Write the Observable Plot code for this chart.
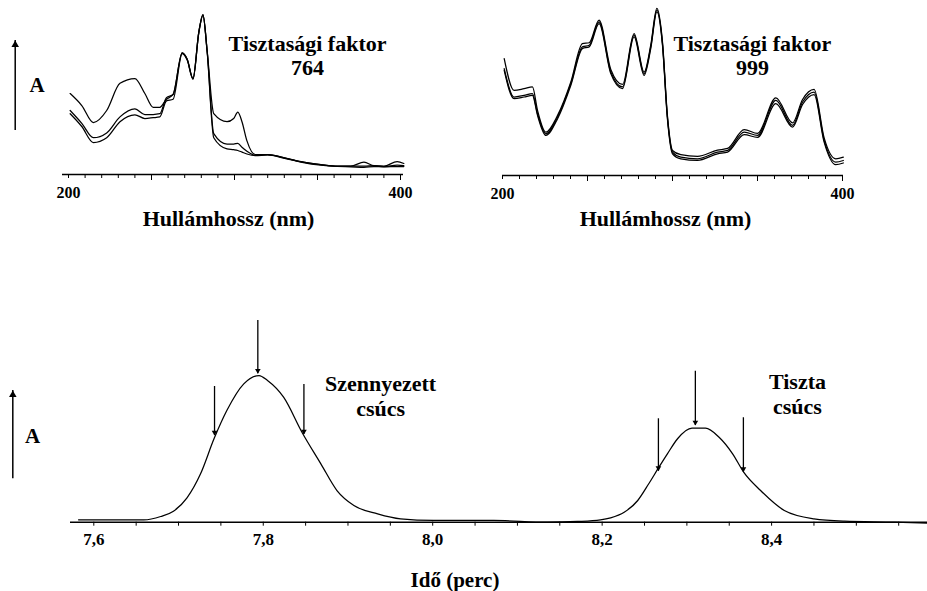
<!DOCTYPE html>
<html>
<head>
<meta charset="utf-8">
<script src="https://cdn.jsdelivr.net/npm/d3@7"></script>
<script src="https://cdn.jsdelivr.net/npm/@observablehq/plot@0.6"></script>
<style>
html, body { margin: 0; padding: 0; background: #fff; }
#fig { position: relative; width: 927px; height: 591px; overflow: hidden; }
.panel { position: absolute; }
</style>
</head>
<body>
<div id="fig"></div>
<script>
// ---------- Data ----------
// Top-left spectra (impure peak, purity factor 764)
const wlImpure = [201,208,215,223,231,240,246,251,255,259,263,268.5,271.5,275,278.5,281,283.5,287.5,295.5,299.5,302,304.5,307.5,312.5,320,329.5,340,352,362,370,378,384,390,398,402];
const impureA = [0.506,0.431,0.325,0.40,0.57,0.60,0.506,0.42,0.42,0.47,0.50,0.76,0.72,0.60,0.89,1.0,0.775,0.38,0.33,0.35,0.39,0.33,0.21,0.125,0.125,0.105,0.08,0.062,0.052,0.052,0.077,0.055,0.052,0.081,0.069];
const impureB = [0.40,0.32,0.23,0.26,0.36,0.41,0.375,0.375,0.38,0.48,0.50,0.76,0.72,0.60,0.89,1.0,0.775,0.255,0.19,0.19,0.195,0.17,0.145,0.12,0.125,0.105,0.08,0.062,0.052,0.052,0.052,0.055,0.05,0.058,0.055];
const impureC = [0.38,0.30,0.20,0.23,0.33,0.373,0.35,0.355,0.36,0.46,0.47,0.755,0.715,0.595,0.885,0.995,0.77,0.23,0.16,0.155,0.15,0.14,0.128,0.118,0.122,0.103,0.078,0.058,0.05,0.048,0.045,0.05,0.047,0.05,0.05];

// Top-right spectra (pure peak, purity factor 999)
const wlPure = [201,206.8,212.7,217.6,220.6,225.5,232.4,240.2,247,251,256.8,263.7,270.6,277.4,283.3,287.2,290.8,294.1,297,300,304.9,314.7,326.5,332.4,342.2,350,360.8,370.6,376.5,383.3,389.2,396,400.5];
const pureHigh = [0.70,0.51,0.52,0.53,0.39,0.26,0.36,0.56,0.79,0.795,0.93,0.635,0.545,0.85,0.62,0.78,1.0,0.80,0.36,0.15,0.125,0.115,0.152,0.162,0.275,0.252,0.465,0.315,0.455,0.515,0.225,0.10,0.11];
const pureMid  = [0.64,0.47,0.48,0.49,0.37,0.25,0.35,0.55,0.77,0.78,0.92,0.62,0.53,0.84,0.61,0.77,0.99,0.79,0.35,0.14,0.11,0.10,0.14,0.15,0.26,0.24,0.45,0.30,0.44,0.50,0.21,0.08,0.09];
const pureLow  = [0.63,0.46,0.47,0.48,0.36,0.24,0.34,0.54,0.76,0.77,0.91,0.61,0.52,0.83,0.60,0.76,0.98,0.78,0.34,0.13,0.10,0.09,0.13,0.14,0.245,0.228,0.43,0.29,0.425,0.485,0.20,0.065,0.075];

// Chromatogram
const timeMin = [7.582,7.659,7.679,7.694,7.710,7.726,7.742,7.757,7.777,7.795,7.805,7.824,7.846,7.868,7.887,7.907,7.935,7.962,8.001,8.045,8.072,8.135,8.171,8.198,8.210,8.226,8.242,8.255,8.267,8.277,8.289,8.306,8.322,8.338,8.354,8.367,8.387,8.415,8.450,8.486,8.545,8.584];
const signal  = [0.016,0.016,0.039,0.075,0.166,0.330,0.57,0.761,0.943,1.0,0.966,0.852,0.61,0.398,0.216,0.114,0.057,0.023,0.012,0.012,0.012,0.0,0.005,0.016,0.030,0.068,0.148,0.262,0.375,0.466,0.569,0.641,0.641,0.579,0.466,0.341,0.216,0.080,0.023,0.007,0.0,-0.007];

// Axis ticks and labels
const spectrumMinorTicks = d3.range(200, 401, 10);
const spectrumMajorTicks = [250, 300, 350, 400];
const spectrumTickLabels = [200, 400];
const timeMinorTicks = d3.range(152, 172).map(i => i / 20);
const timeTickValues = [7.6, 7.8, 8.0, 8.2, 8.4];
const timeTickLabels = ["7,6", "7,8", "8,0", "8,2", "8,4"];

// Texts
const xLabelSpectrum = "Hullámhossz (nm)";
const xLabelTime = "Idő (perc)";
const yLabel = "A";
const purityTL = [{x: 344, y: 0.819, t: "Tisztasági faktor"}, {x: 344, y: 0.669, t: "764"}];
const purityTR = [{x: 347, y: 0.786, t: "Tisztasági faktor"}, {x: 347, y: 0.641, t: "999"}];
const peakLabels = [
  {x: 7.9385, y: 0.945, t: "Szennyezett"}, {x: 7.9385, y: 0.775, t: "csúcs"},
  {x: 8.4305, y: 0.957, t: "Tiszta"}, {x: 8.4305, y: 0.787, t: "csúcs"}
];
// Annotation arrows (data units)
const yArrowTL = [{x: 167.9, from: 0.275, to: 0.8375}];
const yLabelTL = [{x: 181.1, y: 0.556}];
const yArrowBottom = [{x: 7.5044, from: 0.296, to: 0.897}];
const yLabelBottom = [{x: 7.5276, y: 0.589}];
const peakArrows = [
  {x: 7.7936, from: 1.375, to: 1.012},
  {x: 7.7425, from: 0.925, to: 0.591},
  {x: 7.848,  from: 0.939, to: 0.598},
  {x: 8.310,  from: 1.029, to: 0.659},
  {x: 8.2664, from: 0.705, to: 0.348},
  {x: 8.3667, from: 0.712, to: 0.341}
];

// ---------- Drawing ----------
const FONT = "Liberation Serif";
const fig = document.getElementById("fig");
const baseStyle = {color: "black", background: "transparent", overflow: "visible"};

function place(svg, left, top) {
  const d = document.createElement("div");
  d.className = "panel";
  d.style.left = left + "px";
  d.style.top = top + "px";
  d.appendChild(svg);
  fig.appendChild(d);
}

function upArrow(data) {
  return [
    Plot.ruleX(data, {x: "x", y1: "from", y2: "to", stroke: "black", strokeWidth: 1.5}),
    Plot.dot(data, {x: "x", y: "to", symbol: "triangle", r: 2.8, fill: "black", stroke: "none", dy: 4.3})
  ];
}
function downArrow(data) {
  return [
    Plot.ruleX(data, {x: "x", y1: "from", y2: "to", stroke: "black", strokeWidth: 1.3}),
    Plot.dot(data, {x: "x", y: "to", symbol: "triangle", r: 2.1, rotate: 180, fill: "black", stroke: "none", dy: -3.2})
  ];
}
const lineOpts = (x) => ({x, stroke: "black", strokeWidth: 1.25, curve: "monotone-x"});
const txt = (extra) => Object.assign({fontFamily: FONT, fontWeight: "bold"}, extra);

// Top-left
const tl = Plot.plot({
  width: 420, height: 240,
  marginLeft: 68, marginRight: 20, marginTop: 14, marginBottom: 66,
  x: {domain: [200, 400]},
  y: {domain: [0, 1], axis: null},
  style: baseStyle,
  marks: [
    Plot.ruleY([0], {stroke: "black", strokeWidth: 1.5, insetLeft: -6, insetRight: -3}),
    Plot.axisX(spectrumMinorTicks, txt({tickSize: 4, tickPadding: 8, fontSize: 16, label: null,
      tickFormat: d => spectrumTickLabels.includes(d) ? String(d) : ""})),
    Plot.axisX(spectrumMajorTicks, {tickSize: 6, tickFormat: () => "", label: null}),
    Plot.lineY(impureA, lineOpts(wlImpure)),
    Plot.lineY(impureB, lineOpts(wlImpure)),
    Plot.lineY(impureC, lineOpts(wlImpure)),
    Plot.text(purityTL, txt({x: "x", y: "y", text: "t", fontSize: 22})),
    Plot.text([xLabelSpectrum], txt({frameAnchor: "bottom", lineAnchor: "middle", dy: 44, dx: -6, fontSize: 22})),
    ...upArrow(yArrowTL),
    Plot.text(yLabelTL, txt({x: "x", y: "y", text: () => yLabel, fontSize: 21}))
  ]
});
place(tl, 0, 0);

// Top-right
const tr = Plot.plot({
  width: 457, height: 240,
  marginLeft: 32, marginRight: 85, marginTop: 8, marginBottom: 65,
  x: {domain: [200, 400]},
  y: {domain: [0, 1], axis: null},
  style: baseStyle,
  marks: [
    Plot.ruleY([0], {stroke: "black", strokeWidth: 1.5, insetRight: -1}),
    Plot.axisX(spectrumMinorTicks, txt({tickSize: 4, tickPadding: 8, fontSize: 16, label: null,
      tickFormat: d => spectrumTickLabels.includes(d) ? String(d) : ""})),
    Plot.axisX(spectrumMajorTicks, {tickSize: 6, tickFormat: () => "", label: null}),
    Plot.lineY(pureHigh, lineOpts(wlPure)),
    Plot.lineY(pureMid, lineOpts(wlPure)),
    Plot.lineY(pureLow, lineOpts(wlPure)),
    Plot.text(purityTR, txt({x: "x", y: "y", text: "t", fontSize: 22})),
    Plot.text([xLabelSpectrum], txt({frameAnchor: "bottom", lineAnchor: "middle", dy: 43, dx: -7, fontSize: 22}))
  ]
});
place(tr, 470, 0);

// Bottom chromatogram
const bt = Plot.plot({
  width: 927, height: 291,
  marginLeft: 70, marginRight: 0, marginTop: 75, marginBottom: 69.3,
  x: {domain: [7.5725, 8.584]},
  y: {domain: [0, 1], axis: null},
  style: baseStyle,
  marks: [
    Plot.ruleY([0], {stroke: "black", strokeWidth: 1.5}),
    Plot.axisX(timeMinorTicks, {tickSize: 4, tickFormat: () => "", label: null}),
    Plot.axisX(timeTickValues, txt({tickSize: 0, tickPadding: 11, fontSize: 17, label: null,
      tickFormat: d => timeTickLabels[timeTickValues.indexOf(d)]})),
    Plot.lineY(signal, lineOpts(timeMin)),
    ...downArrow(peakArrows),
    Plot.text(peakLabels, txt({x: "x", y: "y", text: "t", fontSize: 22})),
    Plot.text([xLabelTime], txt({frameAnchor: "bottom", lineAnchor: "middle", dy: 58, dx: -44, fontSize: 21})),
    ...upArrow(yArrowBottom),
    Plot.text(yLabelBottom, txt({x: "x", y: "y", text: () => yLabel, fontSize: 21}))
  ]
});
place(bt, 0, 300);
</script>
</body>
</html>
